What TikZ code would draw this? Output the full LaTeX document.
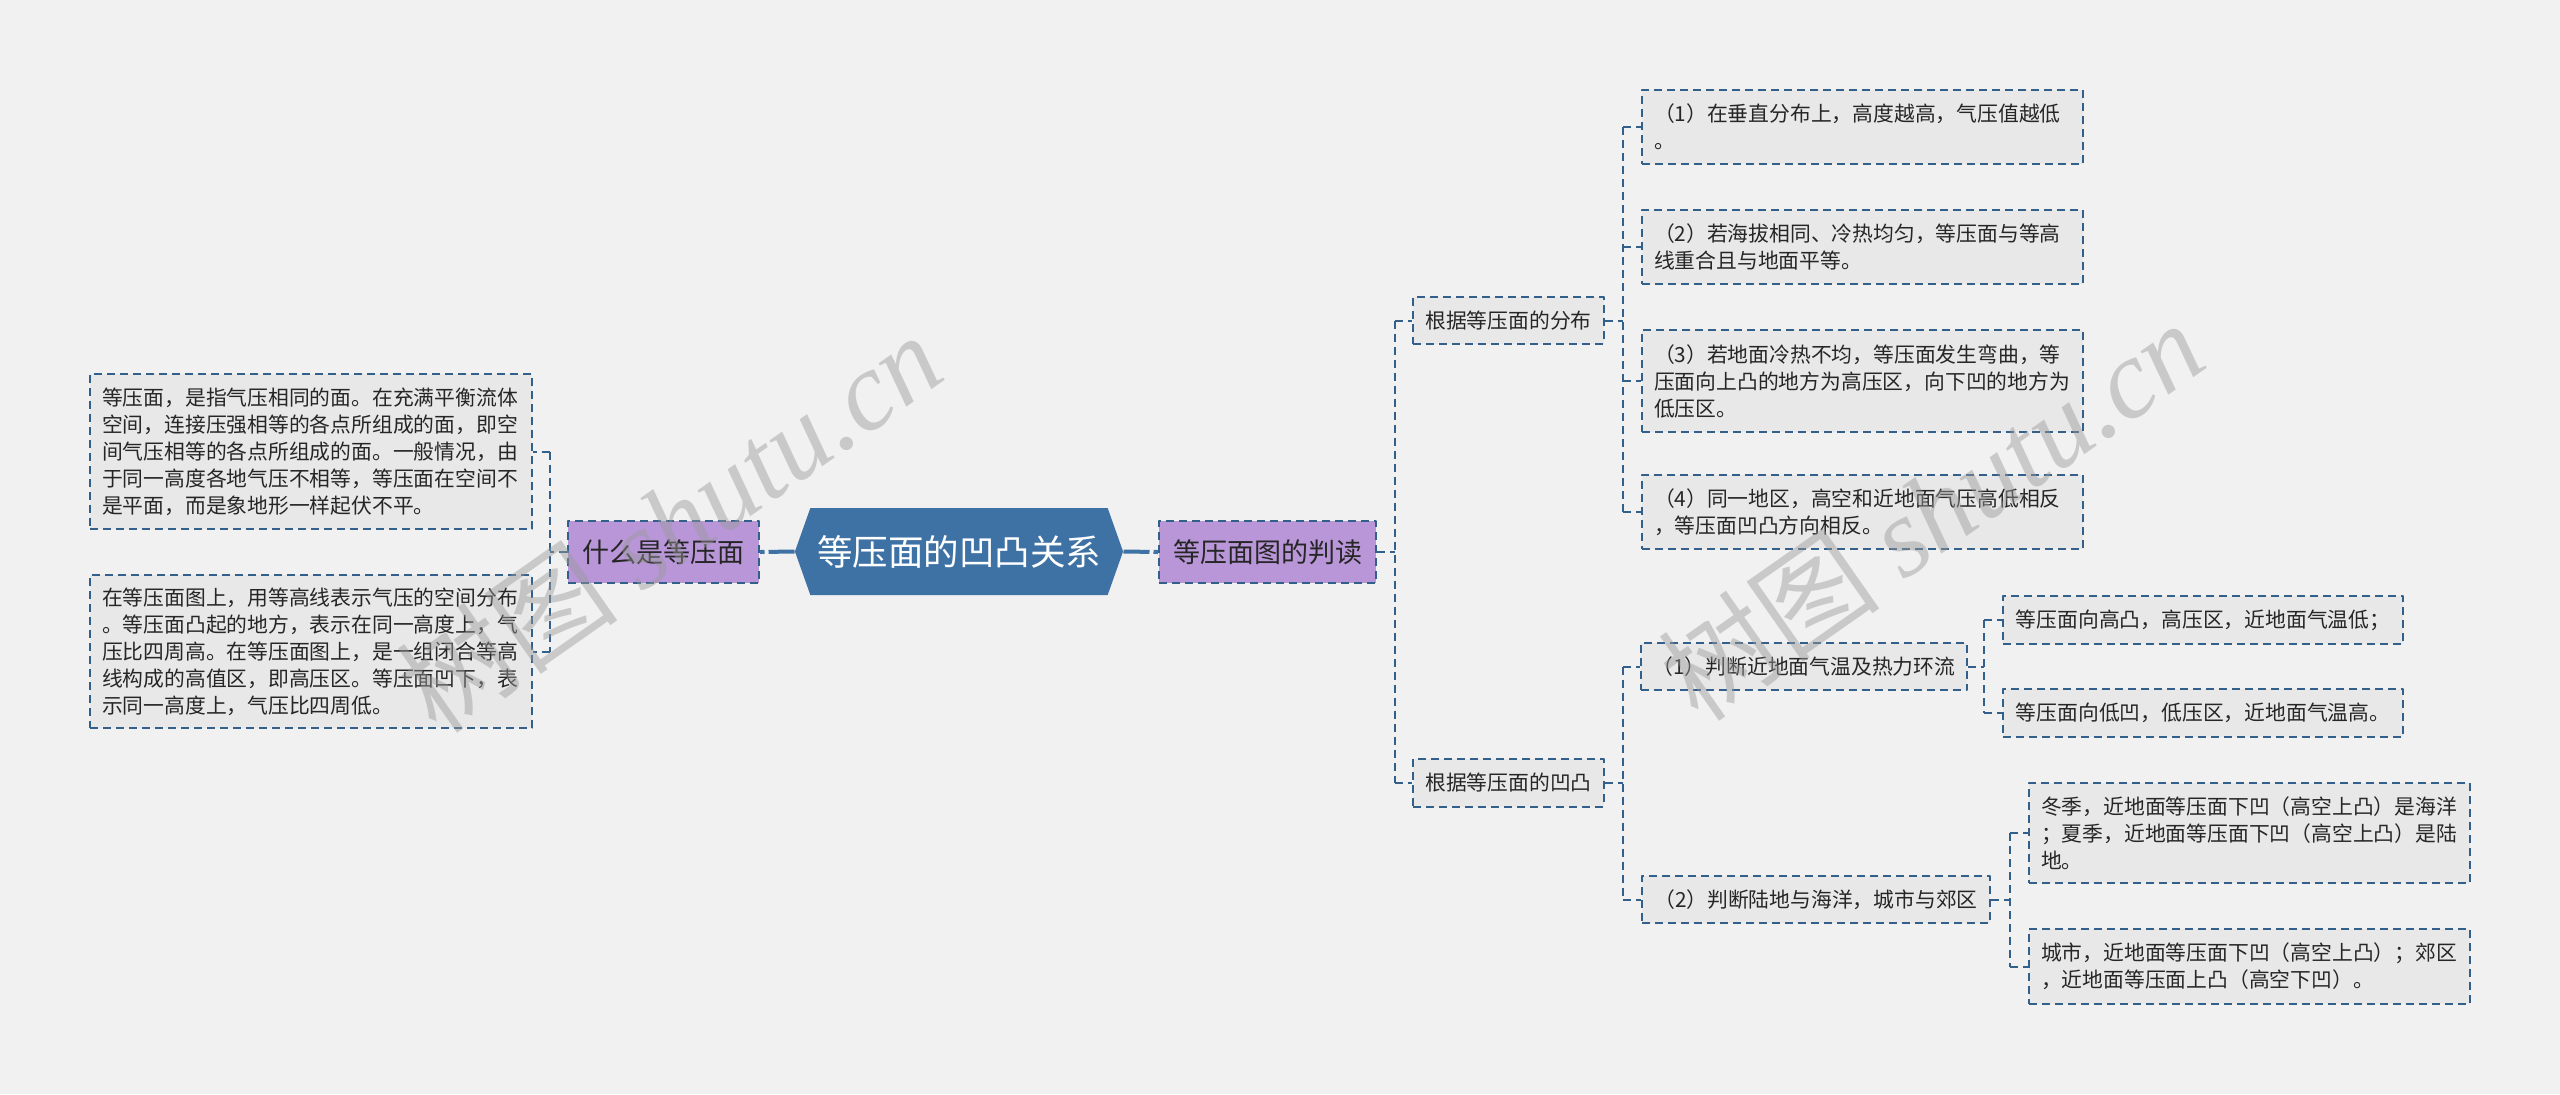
\documentclass[tikz,border=0pt]{standalone}
\usepackage{fontspec}
\setmainfont{Noto Sans CJK SC}
\newfontfamily\wmfont{Liberation Serif}
\usetikzlibrary{shapes.symbols}
\definecolor{bgcol}{HTML}{F1F1F1}
\definecolor{boxcol}{HTML}{E8E8E8}
\definecolor{edgecol}{HTML}{32608A}
\definecolor{rootcol}{HTML}{3E72A5}
\definecolor{topiccol}{HTML}{B896D8}
\definecolor{inkcol}{HTML}{262626}
\definecolor{markcol}{HTML}{9A9A9A}
\begin{document}
\begin{tikzpicture}[x=0.5pt,y=-0.5pt,line join=round,
	leaf/.style={draw=edgecol,line width=1pt,dash pattern=on 4pt off 2.5pt,fill=boxcol,text=inkcol,inner xsep=6pt,align=left,font=\fontsize{10.4pt}{13.5pt}\selectfont},
	topic/.style={draw=edgecol,line width=1pt,dash pattern=on 4pt off 2.5pt,fill=topiccol,text=inkcol,minimum height=31pt,font=\fontsize{13.5pt}{16pt}\selectfont},
	link/.style={edgecol,line width=1pt,dash pattern=on 4pt off 2.5pt},
	mainlink/.style={rootcol,line width=2pt,dash pattern=on 13pt off 2pt on 2.5pt off 2pt},
	watermark/.style={rotate=35,text=markcol,opacity=0.45,font=\fontsize{56pt}{56pt}\selectfont}]
			\fill[bgcol] (0,0) rectangle (2560,1094);
			\useasboundingbox (0,0) rectangle (2560,1094);
			% centre and first level
			\node[signal,signal to=west and east,signal pointer angle=141,fill=rootcol,text=white,minimum width=163pt,minimum height=43.5pt,font=\fontsize{17.75pt}{20pt}\selectfont] (root) at (959,551.5) {等压面的凹凸关系};
			\node[topic,minimum width=95.5pt] (what) at (663.5,552) {什么是等压面};
			\node[topic,minimum width=108.5pt] (read) at (1267.5,552) {等压面图的判读};
			% left side
			\node[leaf,text width=209pt,minimum height=77.5pt] (defA) at (311,451.5) {等压面，是指气压相同的面。在充满平衡流体\\空间，连接压强相等的各点所组成的面，即空\\间气压相等的各点所组成的面。一般情况，由\\于同一高度各地气压不相等，等压面在空间不\\是平面，而是象地形一样起伏不平。};
			\node[leaf,text width=209pt,minimum height=76.5pt] (defB) at (311,651.5) {在等压面图上，用等高线表示气压的空间分布\\。等压面凸起的地方，表示在同一高度上，气\\压比四周高。在等压面图上，是一组闭合等高\\线构成的高值区，即高压区。等压面凹下，表\\示同一高度上，气压比四周低。};
			% right side
			\node[leaf,minimum width=94.5pt,minimum height=23.5pt] (dist) at (1508.5,320.5) {根据等压面的分布};
			\node[leaf,minimum width=94.5pt,minimum height=24pt] (bump) at (1508.5,783) {根据等压面的凹凸};
			\node[leaf,text width=208.5pt,minimum height=37pt] (d1) at (1862.5,127) {（1）在垂直分布上，高度越高，气压值越低\\。};
			\node[leaf,text width=208.5pt,minimum height=37pt] (d2) at (1862.5,247) {（2）若海拔相同、冷热均匀，等压面与等高\\线重合且与地面平等。};
			\node[leaf,text width=208.5pt,minimum height=51pt] (d3) at (1862.5,381) {（3）若地面冷热不均，等压面发生弯曲，等\\压面向上凸的地方为高压区，向下凹的地方为\\低压区。};
			\node[leaf,text width=208.5pt,minimum height=37pt] (d4) at (1862.5,512) {（4）同一地区，高空和近地面气压高低相反\\，等压面凹凸方向相反。};
			\node[leaf,minimum width=162pt,minimum height=23.5pt] (b1) at (1804,666.5) {（1）判断近地面气温及热力环流};
			\node[leaf,minimum width=174pt,minimum height=23.5pt] (b2) at (1816,899.5) {（2）判断陆地与海洋，城市与郊区};
			\node[leaf,minimum width=200pt,minimum height=24pt] (b1a) at (2203,620) {等压面向高凸，高压区，近地面气温低；};
			\node[leaf,minimum width=200pt,minimum height=24pt] (b1b) at (2203,713) {等压面向低凹，低压区，近地面气温高。};
			\node[leaf,text width=208.5pt,minimum height=50pt] (b2a) at (2249.5,833) {冬季，近地面等压面下凹（高空上凸）是海洋\\；夏季，近地面等压面下凹（高空上凸）是陆\\地。};
			\node[leaf,text width=208.5pt,minimum height=37.5pt] (b2b) at (2249.5,966.5) {城市，近地面等压面下凹（高空上凸）；郊区\\，近地面等压面上凸（高空下凹）。};
			% connectors
			\coordinate (jL) at (550,0);
			\coordinate (jR) at (1395,0);
			\coordinate (jD) at (1623,0);
			\coordinate (jA) at (1984,0);
			\coordinate (jB) at (2010,0);
			\draw[mainlink] (root.west)--(what.east);
			\draw[mainlink] (root.east)--(read.west);
			\draw[link] (what.west)--(what.west -| jL) (jL |- defA.east)--(jL |- defB.east) (jL |- defA.east)--(defA.east) (jL |- defB.east)--(defB.east);
			\draw[link] (read.east)--(read.east -| jR) (jR |- dist.west)--(jR |- bump.west) (jR |- dist.west)--(dist.west) (jR |- bump.west)--(bump.west);
			\draw[link] (dist.east)--(dist.east -| jD) (jD |- d1.west)--(jD |- d4.west) (jD |- d1.west)--(d1.west) (jD |- d2.west)--(d2.west) (jD |- d3.west)--(d3.west) (jD |- d4.west)--(d4.west);
			\draw[link] (bump.east)--(bump.east -| jD) (jD |- b1.west)--(jD |- b2.west) (jD |- b1.west)--(b1.west) (jD |- b2.west)--(b2.west);
			\draw[link] (b1.east)--(b1.east -| jA) (jA |- b1a.west)--(jA |- b1b.west) (jA |- b1a.west)--(b1a.west) (jA |- b1b.west)--(b1b.west);
			\draw[link] (b2.east)--(b2.east -| jB) (jB |- b2a.west)--(jB |- b2b.west) (jB |- b2a.west)--(b2a.west) (jB |- b2b.west)--(b2b.west);
			% watermark
			\node[watermark] (markA) at (669,522) {树图 {\wmfont\itshape shutu.cn}};
			\node[watermark] (markB) at (1931,510) {树图 {\wmfont\itshape shutu.cn}};
	\end{tikzpicture}
\end{document}
